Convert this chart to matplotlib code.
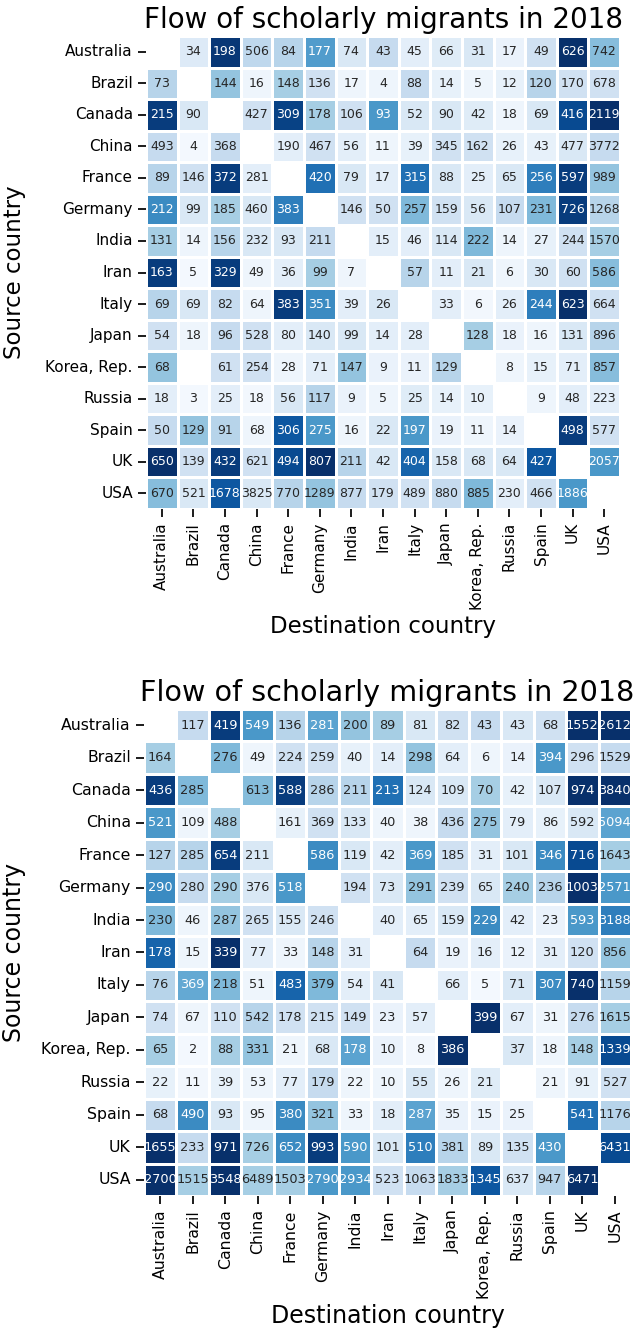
import numpy as np
import matplotlib
matplotlib.use("Agg")
import matplotlib.pyplot as plt
import seaborn as sns

countries = ["Australia", "Brazil", "Canada", "China", "France", "Germany", "India",
             "Iran", "Italy", "Japan", "Korea, Rep.", "Russia", "Spain", "UK", "USA"]
N = np.nan

# Annotated counts (rows = source, columns = destination), first panel
counts_a = [
    [N, 34, 198, 506, 84, 177, 74, 43, 45, 66, 31, 17, 49, 626, 742],
    [73, N, 144, 16, 148, 136, 17, 4, 88, 14, 5, 12, 120, 170, 678],
    [215, 90, N, 427, 309, 178, 106, 93, 52, 90, 42, 18, 69, 416, 2119],
    [493, 4, 368, N, 190, 467, 56, 11, 39, 345, 162, 26, 43, 477, 3772],
    [89, 146, 372, 281, N, 420, 79, 17, 315, 88, 25, 65, 256, 597, 989],
    [212, 99, 185, 460, 383, N, 146, 50, 257, 159, 56, 107, 231, 726, 1268],
    [131, 14, 156, 232, 93, 211, N, 15, 46, 114, 222, 14, 27, 244, 1570],
    [163, 5, 329, 49, 36, 99, 7, N, 57, 11, 21, 6, 30, 60, 586],
    [69, 69, 82, 64, 383, 351, 39, 26, N, 33, 6, 26, 244, 623, 664],
    [54, 18, 96, 528, 80, 140, 99, 14, 28, N, 128, 18, 16, 131, 896],
    [68, N, 61, 254, 28, 71, 147, 9, 11, 129, N, 8, 15, 71, 857],
    [18, 3, 25, 18, 56, 117, 9, 5, 25, 14, 10, N, 9, 48, 223],
    [50, 129, 91, 68, 306, 275, 16, 22, 197, 19, 11, 14, N, 498, 577],
    [650, 139, 432, 621, 494, 807, 211, 42, 404, 158, 68, 64, 427, N, 2057],
    [670, 521, 1678, 3825, 770, 1289, 877, 179, 489, 880, 885, 230, 466, 1886, N],
]

# Colour intensity (0..1) read from cell shades, first panel
shade_a = [
    [N, .13, .97, .27, .30, .58, .15, .25, .10, .12, .15, .07, .20, 1.0, .43],
    [.30, N, .40, .05, .35, .20, .05, .05, .25, .08, .05, .08, .30, .20, .20],
    [.95, .15, N, .20, .93, .35, .20, .60, .15, .15, .12, .05, .15, .90, 1.0],
    [.25, .02, .25, N, .10, .20, .10, .05, .08, .20, .20, .08, .08, .15, .25],
    [.30, .20, .95, .10, N, .75, .15, .10, .75, .15, .10, .15, .70, .95, .40],
    [.65, .15, .35, .15, .70, N, .20, .20, .45, .20, .15, .25, .45, .95, .30],
    [.35, .05, .30, .15, .15, .25, N, .10, .10, .15, .45, .05, .08, .20, .35],
    [.95, .02, .95, .05, .10, .35, .05, N, .30, .10, .15, .05, .15, .20, .43],
    [.30, .15, .25, .05, .95, .65, .10, .15, N, .10, .03, .10, .70, 1.0, .20],
    [.20, .05, .25, .20, .10, .15, .15, .10, .10, N, .35, .07, .05, .15, .30],
    [.40, N, .20, .20, .05, .10, .40, .07, .07, .30, N, .05, .08, .10, .43],
    [.10, .02, .10, .03, .15, .30, .07, .05, .12, .08, .08, N, .05, .10, .10],
    [.25, .40, .30, .05, .85, .60, .05, .15, .60, .07, .05, .07, N, .95, .20],
    [1.0, .20, .95, .20, .90, 1.0, .30, .15, .80, .15, .15, .15, .85, N, .60],
    [.43, .15, .85, .15, .30, .40, .25, .20, .20, .25, .45, .10, .20, .60, N],
]

# Annotated counts, second panel
counts_b = [
    [N, 117, 419, 549, 136, 281, 200, 89, 81, 82, 43, 43, 68, 1552, 2612],
    [164, N, 276, 49, 224, 259, 40, 14, 298, 64, 6, 14, 394, 296, 1529],
    [436, 285, N, 613, 588, 286, 211, 213, 124, 109, 70, 42, 107, 974, 3840],
    [521, 109, 488, N, 161, 369, 133, 40, 38, 436, 275, 79, 86, 592, 5094],
    [127, 285, 654, 211, N, 586, 119, 42, 369, 185, 31, 101, 346, 716, 1643],
    [290, 280, 290, 376, 518, N, 194, 73, 291, 239, 65, 240, 236, 1003, 2571],
    [230, 46, 287, 265, 155, 246, N, 40, 65, 159, 229, 42, 23, 593, 3188],
    [178, 15, 339, 77, 33, 148, 31, N, 64, 19, 16, 12, 31, 120, 856],
    [76, 369, 218, 51, 483, 379, 54, 41, N, 66, 5, 71, 307, 740, 1159],
    [74, 67, 110, 542, 178, 215, 149, 23, 57, N, 399, 67, 31, 276, 1615],
    [65, 2, 88, 331, 21, 68, 178, 10, 8, 386, N, 37, 18, 148, 1339],
    [22, 11, 39, 53, 77, 179, 22, 10, 55, 26, 21, N, 21, 91, 527],
    [68, 490, 93, 95, 380, 321, 33, 18, 287, 35, 15, 25, N, 541, 1176],
    [1655, 233, 971, 726, 652, 993, 590, 101, 510, 381, 89, 135, 430, N, 6431],
    [2700, 1515, 3548, 6489, 1503, 2790, 2934, 523, 1063, 1833, 1345, 637, 947, 6471, N],
]

# Colour intensity (0..1) read from cell shades, second panel
shade_b = [
    [N, .25, .95, .60, .30, .55, .40, .35, .15, .20, .25, .15, .20, 1.0, 1.0],
    [.35, N, .45, .05, .20, .20, .08, .10, .40, .10, .05, .07, .60, .20, .25],
    [.95, .45, N, .44, .95, .30, .30, .75, .15, .15, .35, .08, .15, 1.0, 1.0],
    [.60, .05, .35, N, .08, .20, .15, .05, .05, .25, .40, .10, .08, .15, .55],
    [.30, .30, .95, .15, N, .65, .15, .10, .60, .20, .10, .15, .65, .90, .35],
    [.65, .25, .35, .15, .60, N, .20, .15, .40, .20, .15, .35, .30, 1.0, .60],
    [.45, .05, .40, .20, .15, .20, N, .10, .10, .15, .65, .10, .07, .60, .70],
    [.80, .05, 1.0, .10, .05, .30, .10, N, .25, .07, .10, .07, .10, .20, .40],
    [.30, .52, .45, .05, .80, .45, .10, .15, N, .10, .02, .15, .65, 1.0, .30],
    [.20, .05, .20, .30, .20, .20, .20, .07, .10, N, 1.0, .10, .05, .25, .35],
    [.35, .02, .35, .40, .05, .15, .55, .07, .03, 1.0, N, .15, .05, .35, .90],
    [.08, .03, .08, .05, .10, .25, .05, .05, .15, .05, .12, N, .05, .08, .20],
    [.25, .65, .15, .05, .65, .40, .05, .10, .55, .07, .07, .07, N, .75, .30],
    [1.0, .25, 1.0, .35, .65, .95, .60, .15, .70, .30, .15, .20, .60, N, .90],
    [1.0, .35, 1.0, .35, .35, .60, .60, .20, .25, .35, .85, .15, .30, 1.0, N],
]

title = "Flow of scholarly migrants in 2018"

plt.rcParams.update({
    "font.family": ["DejaVu Sans"],
    "xtick.major.size": 6, "ytick.major.size": 6,
    "xtick.major.width": 1.25, "ytick.major.width": 1.25,
})

W, H = 633, 1341
fig = plt.figure(figsize=(W / 100, H / 100), dpi=100)


def panel(rect, counts, shade, scale, ypad):
    ax = fig.add_axes(rect)
    c = np.array(counts, dtype=float)
    s = np.array(shade, dtype=float)
    labels = np.vectorize(lambda v: "" if np.isnan(v) else f"{int(v)}")(c)
    sns.heatmap(s, ax=ax, cmap="Blues", vmin=0, vmax=1, annot=labels, fmt="",
                annot_kws={"fontsize": 9 * scale}, linewidths=1, linecolor="white",
                cbar=False, xticklabels=countries, yticklabels=countries)
    ax.tick_params(axis="both", labelsize=11 * scale)
    ax.set_xticklabels(countries, rotation=90)
    ax.set_yticklabels(countries, rotation=0)
    ax.set_title(title, fontsize=20 * scale, pad=6)
    ax.set_xlabel("Destination country", fontsize=16.5 * scale)
    ax.set_ylabel("Source country", fontsize=16.5 * scale, labelpad=ypad)
    return ax


panel([146 / W, 1 - 509 / H, 474 / W, 473 / H], counts_a, shade_a, 1.0, 14)
panel([144 / W, 1 - 1196 / H, 487 / W, 487 / H], counts_b, shade_b, 1.03, 11)

fig.savefig("out.png", dpi=100)
